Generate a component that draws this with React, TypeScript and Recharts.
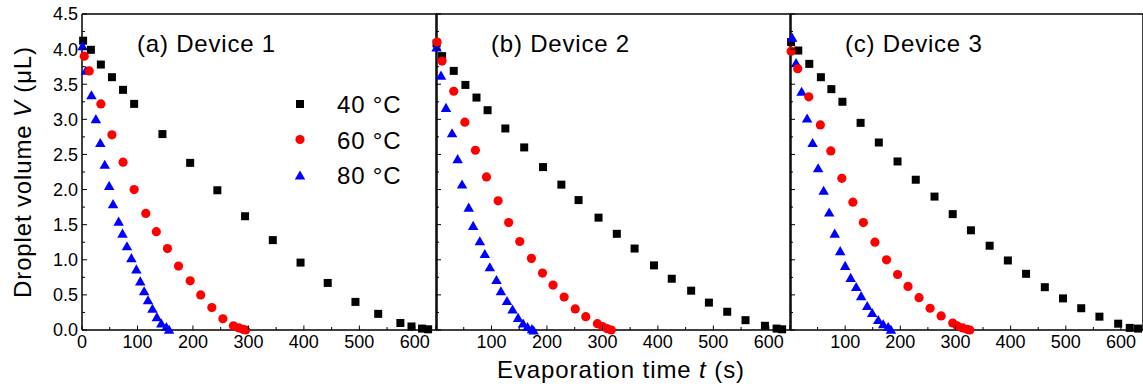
import React from 'react';
import { ScatterChart, Scatter, XAxis, YAxis, Legend } from 'recharts';

const FONT = '"Liberation Sans", Arial, Helvetica, sans-serif';

// ---------- data: [time (s), volume (µL)] ----------
const dev1_40: [number, number][] = [[2,4.12],[16,3.99],[34,3.78],[54,3.60],[74,3.42],[94,3.22],[145,2.79],[195,2.38],[244,1.99],[294,1.62],[344,1.28],[394,0.96],[443,0.67],[493,0.40],[534,0.23],[574,0.10],[594,0.05],[613,0.02],[624,0.01]];
const dev1_60: [number, number][] = [[4,3.90],[13,3.69],[34,3.22],[54,2.78],[74,2.39],[94,2.00],[115,1.66],[134,1.40],[154,1.16],[174,0.91],[195,0.70],[214,0.50],[234,0.32],[254,0.16],[273,0.06],[283,0.03],[290,0.01],[295,0.0]];
const dev1_80: [number, number][] = [[1,4.05],[7,3.70],[17,3.35],[25,3.01],[33,2.67],[41,2.36],[49,2.06],[56,1.80],[66,1.55],[73,1.38],[81,1.20],[89,1.03],[98,0.87],[105,0.70],[112,0.56],[119,0.43],[127,0.31],[135,0.19],[143,0.10],[152,0.05],[157,0.01]];

const dev2_40: [number, number][] = [[1,4.08],[11,3.90],[32,3.69],[53,3.49],[73,3.31],[93,3.13],[125,2.87],[159,2.60],[193,2.32],[226,2.07],[257,1.85],[293,1.60],[326,1.37],[358,1.16],[393,0.92],[425,0.73],[460,0.56],[492,0.39],[525,0.26],[558,0.14],[593,0.06],[614,0.02],[624,0.01]];
const dev2_60: [number, number][] = [[2,4.10],[11,3.83],[32,3.40],[52,2.96],[71,2.56],[91,2.18],[112,1.84],[131,1.53],[151,1.26],[172,1.02],[192,0.81],[211,0.64],[231,0.47],[251,0.30],[270,0.19],[291,0.09],[300,0.05],[308,0.02],[316,0.0]];
const dev2_80: [number, number][] = [[1,4.03],[9,3.63],[18,3.17],[29,2.81],[39,2.44],[47,2.08],[59,1.75],[67,1.49],[79,1.27],[88,1.09],[97,0.90],[109,0.72],[117,0.56],[128,0.42],[138,0.30],[148,0.18],[157,0.10],[165,0.05],[173,0.02],[176,0.0]];

const dev3_40: [number, number][] = [[2,4.10],[15,3.98],[35,3.79],[56,3.60],[75,3.43],[95,3.25],[128,2.95],[161,2.67],[195,2.40],[228,2.14],[262,1.90],[295,1.65],[328,1.42],[362,1.20],[395,0.99],[428,0.80],[462,0.61],[495,0.45],[528,0.31],[561,0.19],[595,0.09],[616,0.03],[631,0.02]];
const dev3_60: [number, number][] = [[2,3.97],[14,3.72],[34,3.32],[55,2.92],[74,2.55],[94,2.16],[114,1.82],[133,1.53],[154,1.25],[175,1.00],[195,0.79],[214,0.62],[234,0.46],[254,0.31],[274,0.20],[295,0.10],[303,0.06],[313,0.03],[321,0.01],[326,0.0]];
const dev3_80: [number, number][] = [[4,4.17],[11,3.81],[21,3.40],[31,3.02],[41,2.67],[51,2.31],[61,1.99],[71,1.68],[81,1.38],[91,1.13],[100,0.92],[110,0.75],[120,0.62],[129,0.49],[140,0.35],[149,0.25],[160,0.15],[169,0.09],[178,0.05],[183,0.01]];

const temperatures = ['40 °C', '60 °C', '80 °C'];
const seriesColors = ['#000000', '#FF0000', '#0000FF'];
const panelTitles = ['(a) Device 1', '(b) Device 2', '(c) Device 3'];
const xTicks = [0, 50, 100, 150, 200, 250, 300, 350, 400, 450, 500, 550, 600];
const xTopTicks = [0, 100, 200, 300, 400, 500, 600];
const yTicks = [0, 0.25, 0.5, 0.75, 1, 1.25, 1.5, 1.75, 2, 2.25, 2.5, 2.75, 3, 3.25, 3.5, 3.75, 4, 4.25, 4.5];
const xDomain: [number, number] = [0, 640];
const yDomain: [number, number] = [0, 4.5];
const xTitle = 'Evaporation time ';
const yTitle = 'Droplet volume ';

const toPoints = (arr: [number, number][]) => arr.map(([t, v]) => ({ t, v }));

// ---------- layout ----------
const TOP = 15;
const PLOT_H = 315;
const BOTTOM_AXIS_H = 40;
const RIGHT_PAD = 6;
const THIN = 1; // size of the top / right frame axes

// ---------- marker shapes ----------
const SquareShape = (p: any) => (
  <rect x={p.cx - 4} y={p.cy - 4} width={8} height={8} fill={p.fill} />
);
const CircleShape = (p: any) => <circle cx={p.cx} cy={p.cy} r={4.6} fill={p.fill} />;
const TriangleShape = (p: any) => {
  const s = 10.5;
  const h = s * 0.866;
  return (
    <polygon
      points={`${p.cx},${p.cy - h / 2} ${p.cx - s / 2},${p.cy + h / 2} ${p.cx + s / 2},${p.cy + h / 2}`}
      fill={p.fill}
    />
  );
};
const shapes = [SquareShape, CircleShape, TriangleShape];

// ---------- ticks ----------
const isMult = (v: number, step: number) => Math.abs(v / step - Math.round(v / step)) < 1e-6;

const makeBottomTick = (showZero: boolean) => (p: any) => {
  const { x, y, payload } = p;
  const v = payload.value;
  const major = isMult(v, 100);
  return (
    <g>
      <line x1={x} x2={x} y1={y} y2={y - (major ? 4.5 : 3)} stroke="#000" strokeWidth={1} />
      {major && (showZero || v !== 0) && (
        <text x={x} y={y + 18} textAnchor="middle" fontSize={18} fontFamily={FONT} fill="#000">
          {v}
        </text>
      )}
    </g>
  );
};
const TopTick = (p: any) => (
  <line x1={p.x} x2={p.x} y1={p.y} y2={p.y + 4.5} stroke="#000" strokeWidth={1} />
);
const makeLeftTick = (showLabels: boolean) => (p: any) => {
  const { x, y, payload } = p;
  const v = payload.value;
  const major = isMult(v, 0.5);
  return (
    <g>
      <line x1={x} x2={x + (major ? 5 : 3)} y1={y} y2={y} stroke="#000" strokeWidth={1} />
      {showLabels && major && (
        <text x={x - 4} y={y} dy="0.36em" textAnchor="end" fontSize={18} fontFamily={FONT} fill="#000">
          {v.toFixed(1)}
        </text>
      )}
    </g>
  );
};
const RightTick = (p: any) => {
  const major = isMult(p.payload.value, 0.5);
  return <line x1={p.x} x2={p.x - (major ? 5 : 3)} y1={p.y} y2={p.y} stroke="#000" strokeWidth={1} />;
};

const axisLine = { stroke: '#000', strokeWidth: 1.5 };

// ---------- legend ----------
const LegendContent = () => (
  <svg width={130} height={110} style={{ overflow: 'visible' }}>
    {temperatures.map((name, i) => {
      const cy = 19 + i * 35.5;
      const Shape = shapes[i];
      return (
        <g key={name}>
          <Shape cx={10} cy={cy} fill={seriesColors[i]} />
          <text x={47} y={cy + 9} fontSize={24} letterSpacing={0.8} fontFamily={FONT} fill="#000">
            {name}
          </text>
        </g>
      );
    })}
  </svg>
);

type PanelProps = {
  left: number;
  plotW: number;
  yAxisWidth: number;
  showYLabels: boolean;
  showZero: boolean;
  series: [number, number][][];
  legend?: boolean;
};

function Panel({ left, plotW, yAxisWidth, showYLabels, showZero, series, legend }: PanelProps) {
  const width = yAxisWidth + plotW + THIN + RIGHT_PAD;
  const height = TOP + PLOT_H + BOTTOM_AXIS_H;
  return (
    <div style={{ position: 'absolute', left, top: 0 }}>
      <ScatterChart
        width={width}
        height={height}
        margin={{ top: TOP - THIN, right: RIGHT_PAD, bottom: 0, left: 0 }}
        style={{ overflow: 'visible' }}
      >
        <XAxis
          xAxisId="b"
          dataKey="t"
          type="number"
          domain={xDomain}
          ticks={xTicks}
          interval={0}
          orientation="bottom"
          height={BOTTOM_AXIS_H}
          tickSize={0}
          tickMargin={0}
          tickLine={false}
          axisLine={axisLine}
          tick={makeBottomTick(showZero)}
        />
        <XAxis
          xAxisId="t"
          dataKey="t"
          type="number"
          domain={xDomain}
          ticks={xTopTicks}
          interval={0}
          orientation="top"
          height={THIN}
          mirror
          tickSize={0}
          tickMargin={0}
          tickLine={false}
          axisLine={axisLine}
          tick={TopTick}
        />
        <YAxis
          yAxisId="l"
          dataKey="v"
          type="number"
          domain={yDomain}
          ticks={yTicks}
          interval={0}
          orientation="left"
          width={yAxisWidth}
          tickSize={0}
          tickMargin={0}
          tickLine={false}
          axisLine={axisLine}
          tick={makeLeftTick(showYLabels)}
        />
        <YAxis
          yAxisId="r"
          dataKey="v"
          type="number"
          domain={yDomain}
          ticks={yTicks}
          interval={0}
          orientation="right"
          width={THIN}
          mirror
          tickSize={0}
          tickMargin={0}
          tickLine={false}
          axisLine={axisLine}
          tick={RightTick}
        />
        {[0, 2, 1].map((i) => (
          <Scatter
            key={i}
            name={temperatures[i]}
            xAxisId="b"
            yAxisId="l"
            data={toPoints(series[i])}
            fill={seriesColors[i]}
            shape={shapes[i]}
            isAnimationActive={false}
          />
        ))}
        {legend && (
          <Legend
            layout="vertical"
            align="center"
            verticalAlign="middle"
            wrapperStyle={{ left: 290, top: 85, width: 130, height: 110 }}
            content={() => <LegendContent />}
          />
        )}
      </ScatterChart>
    </div>
  );
}

const panelLefts = [82, 436, 790];

export default function App() {
  return (
    <div
      style={{
        position: 'fixed',
        left: 0,
        top: 0,
        width: 1143,
        height: 391,
        background: '#fff',
        overflow: 'hidden',
        fontFamily: FONT,
      }}
    >
      <Panel left={0} plotW={354} yAxisWidth={82} showYLabels={true} showZero={true} series={[dev1_40, dev1_60, dev1_80]} legend />
      <Panel left={426} plotW={354} yAxisWidth={10} showYLabels={false} showZero={false} series={[dev2_40, dev2_60, dev2_80]} />
      <Panel left={780} plotW={352} yAxisWidth={10} showYLabels={false} showZero={false} series={[dev3_40, dev3_60, dev3_80]} />
      <svg
        width={1143}
        height={391}
        style={{ position: 'absolute', left: 0, top: 0, pointerEvents: 'none' }}
      >
        {panelTitles.map((t, i) => (
          <text key={t} x={panelLefts[i] + 55} y={52} fontSize={24} letterSpacing={0.8} fontFamily={FONT} fill="#000">
            {t}
          </text>
        ))}
        <text x={621} y={378} textAnchor="middle" fontSize={24} letterSpacing={0.9} fontFamily={FONT} fill="#000">
          {xTitle}
          <tspan fontStyle="italic">t</tspan>
          {' (s)'}
        </text>
        <text
          x={31}
          y={172}
          textAnchor="middle"
          fontSize={24}
          letterSpacing={0.85}
          fontFamily={FONT}
          fill="#000"
          transform="rotate(-90 31 172)"
        >
          {yTitle}
          <tspan fontStyle="italic">V</tspan>
          {' (μL)'}
        </text>
      </svg>
    </div>
  );
}
